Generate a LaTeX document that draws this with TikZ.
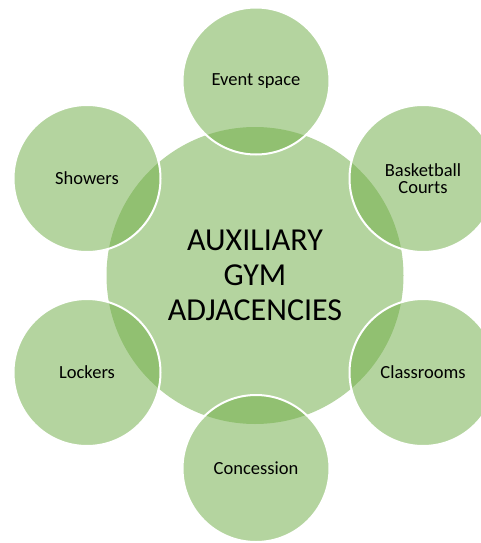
\documentclass[tikz,border=0pt]{standalone}
\usepackage{fontspec}
\setmainfont{Carlito}
\definecolor{gymgreen}{HTML}{70AD47}
\begin{document}
\begin{tikzpicture}[x=1pt,y=-1pt,
  hub/.style={circle, minimum size=297pt, inner sep=0pt, fill=gymgreen, fill opacity=0.52, text opacity=1, draw=none, align=center, font=\fontsize{32}{35}\selectfont},
  spoke/.style={circle, minimum size=147pt, inner sep=0pt, fill=gymgreen, fill opacity=0.52, text opacity=1, draw=white, draw opacity=1, line width=2pt, align=center, font=\fontsize{18.5}{17}\selectfont}]
\useasboundingbox (0,0) rectangle (481,543);
\clip (0,0) rectangle (481,543);
\node[hub] (center) at (255,275.5) {AUXILIARY\\GYM\\ADJACENCIES};
\node[spoke] (event) at (256,81) {Event space};
\node[spoke] (basket) at (423,178.5) {Basketball\\Courts};
\node[spoke] (class) at (423,372.5) {Classrooms};
\node[spoke] (conc) at (256,468.5) {Concession};
\node[spoke] (lock) at (87,372.5) {Lockers};
\node[spoke] (show) at (87,178.5) {Showers};
\end{tikzpicture}
\end{document}
